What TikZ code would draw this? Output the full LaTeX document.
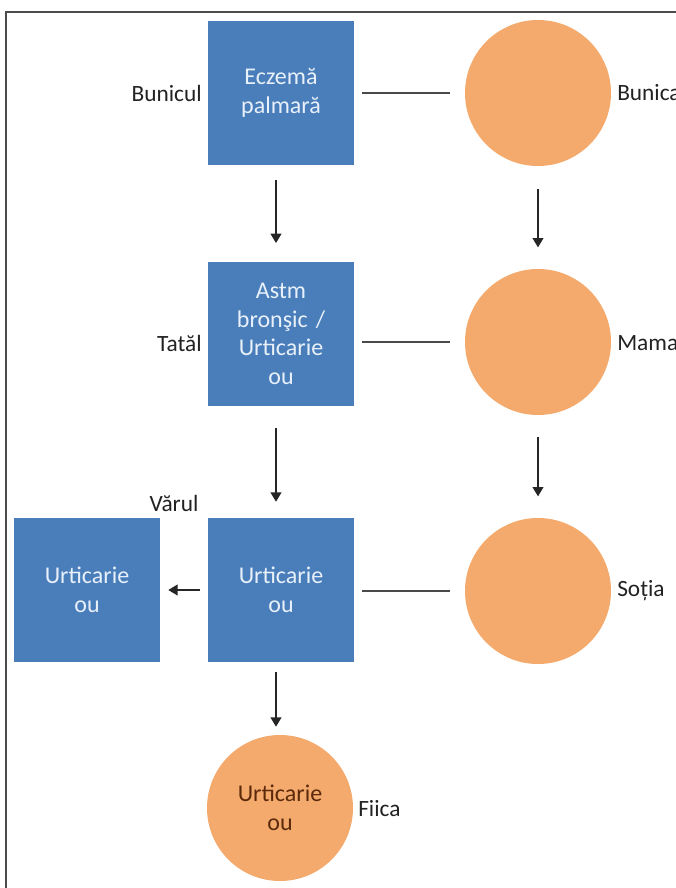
\documentclass[tikz,border=0pt]{standalone}
\usepackage{fontspec}
\setmainfont{Carlito}
\usetikzlibrary{arrows.meta}
\definecolor{boxblue}{HTML}{4A7EBB}
\definecolor{circorange}{HTML}{F4AA6C}
\definecolor{boxtext}{HTML}{E8F0FA}
\definecolor{labtext}{HTML}{222222}
\definecolor{linegray}{HTML}{4A4A4A}
\definecolor{fiicatext}{HTML}{5A2A0A}
\tikzset{
  bluebox/.style={rectangle, fill=boxblue, minimum width=109.5pt, minimum height=108pt,
    inner sep=0pt, align=center, text=boxtext, font=\fontsize{18}{21.5}\selectfont, text width=100pt},
  orangecirc/.style={circle, fill=circorange, minimum size=109.5pt, inner sep=0pt,
    align=center, font=\fontsize{18}{21.5}\selectfont},
  lab/.style={text=labtext, font=\fontsize{17.5}{21}\selectfont, inner sep=0pt},
  arr/.style={draw=black!85, line width=1.4pt, -{Triangle[width=8pt,length=7pt]}},
  link/.style={draw=linegray, line width=2.2pt}
}
\begin{document}
\begin{tikzpicture}[x=0.75pt, y=-0.75pt]
\useasboundingbox (0,0) rectangle (675,888);
\fill[white] (0,0) rectangle (675,888);
\draw[line width=1.6pt, draw=black!70] (6,895) -- (6,12) -- (685,12);

% left column
\node[bluebox] (b1) at (281,93) {Eczemă\\palmară};
\node[bluebox] (b2) at (281,334) {Astm\\bronşic /\\Urticarie\\ou};
\node[bluebox] (b3) at (281,590) {Urticarie\\ou};
\node[bluebox] (v) at (87,590) {Urticarie\\ou};
\node[orangecirc, text=fiicatext] (f) at (280,808) {Urticarie\\ou};

% right column
\node[orangecirc] (c1) at (538,93) {};
\node[orangecirc] (c2) at (538,342) {};
\node[orangecirc] (c3) at (538,591) {};

% labels
\node[lab, anchor=east] (lbunicul) at (202,93) {Bunicul};
\node[lab, anchor=east] (ltatal) at (202,343) {Tatăl};
\node[lab] (lvarul) at (174,503) {Vărul};
\node[lab, anchor=west] (lbunica) at (617,93) {Bunica};
\node[lab, anchor=west] (lmama) at (617,343) {Mama};
\node[lab, anchor=west] (lsotia) at (617,591) {Soția};
\node[lab, anchor=west] (lfiica) at (358,809) {Fiica};

% arrows
\draw[arr, shorten <=11pt, shorten >=14pt] (b1.south -| 276,0) -- (b2.north -| 276,0);
\draw[arr, shorten <=16pt, shorten >=12pt] (b2.south -| 276,0) -- (b3.north -| 276,0);
\draw[arr, shorten <=7pt, shorten >=6pt] (b3.south -| 276,0) -- (f.north -| 276,0);
\draw[arr, shorten <=17pt, shorten >=16pt] (c1) -- (c2);
\draw[arr, shorten <=16pt, shorten >=16pt] (c2) -- (c3);
\draw[arr, shorten <=6pt, shorten >=6pt] (b3) -- (v);

% links
\draw[link, shorten <=6pt, shorten >=11pt] (b1) -- (c1);
\draw[link, shorten <=6pt, shorten >=11pt] (b2.east |- c2) -- (c2);
\draw[link, shorten <=6pt, shorten >=11pt] (b3.east |- c3) -- (c3);
\end{tikzpicture}
\end{document}
